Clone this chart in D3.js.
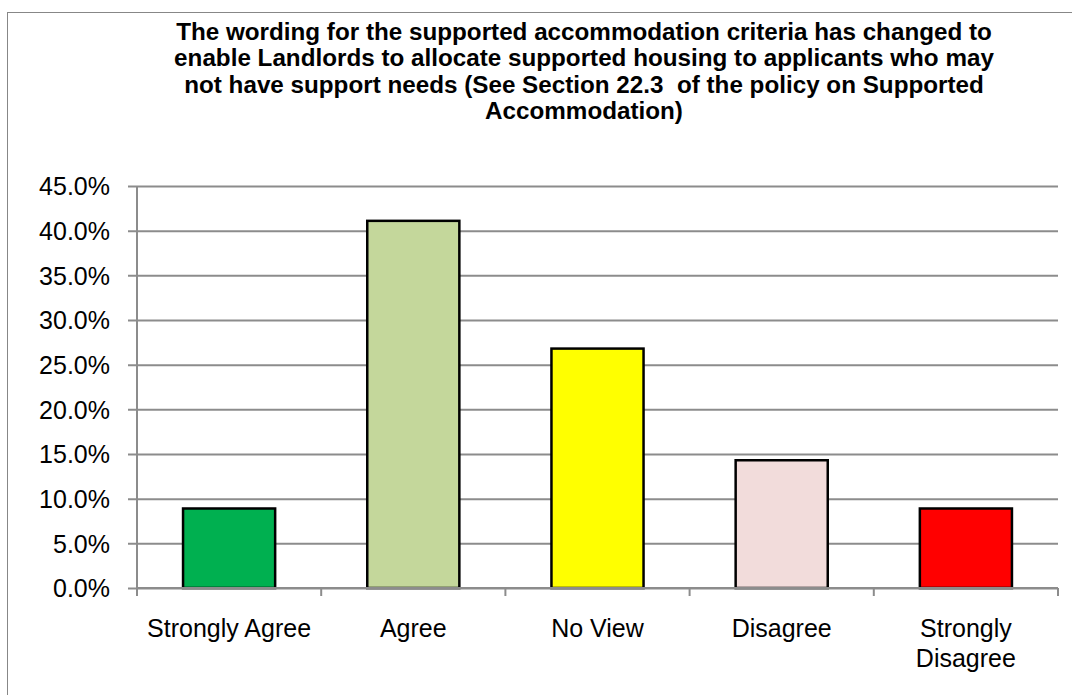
<!DOCTYPE html>
<html>
<head>
<meta charset="utf-8">
<script src="https://cdn.jsdelivr.net/npm/d3@7"></script>
<style>
	html, body { margin: 0; padding: 0; background: #fff; }
	svg { display: block; }
	.tick-label { font-family: "Liberation Sans", Arial, sans-serif; font-size: 25px; fill: #000; }
	.title { font-family: "Liberation Sans", Arial, sans-serif; font-weight: bold; font-size: 24px; fill: #000; }
</style>
</head>
<body>
<svg id="chart" width="1072" height="695"></svg>
<script>
(function(d3) {
	'use strict';

	var categories = ['Strongly Agree', 'Agree', 'No View', 'Disagree', 'Strongly Disagree'];
	var percentages = [8.9, 41.1, 26.8, 14.3, 8.9];
	var barColours = ['#00B050', '#C4D79B', '#FFFF00', '#F2DCDB', '#FF0000'];
	var yTicks = [0, 5, 10, 15, 20, 25, 30, 35, 40, 45];
	var titleLines = [
		'The wording for the supported accommodation criteria has changed to',
		'enable Landlords to allocate supported housing to applicants who may',
		'not have support needs (See Section 22.3  of the policy on Supported',
		'Accommodation)'
	];
	var categoryLines = {
		'Strongly Disagree': ['Strongly', 'Disagree']
	};

	var svg = d3.select('#chart');
	var plot = { left: 137, right: 1058, top: 186, bottom: 588 };

	// outer chart frame
	svg.append('rect').attr('x', 7.5).attr('y', 12.5).attr('width', 1080).attr('height', 700)
		.attr('fill', 'none').attr('stroke', '#878787').attr('stroke-width', 1);

	// title, squeezed to the width it has in the original
	var titleCx = 584, titleWidth = 816;
	var titleG = svg.append('g');
	titleG.selectAll('text').data(titleLines).enter().append('text')
		.attr('class', 'title')
		.attr('x', 0)
		.attr('y', function(d, i) { return 40 + i * 26.5; })
		.attr('text-anchor', 'middle')
		.style('white-space', 'pre')
		.text(function(d) { return d; });
	var firstLen = titleG.select('text').node().getComputedTextLength();
	titleG.attr('transform', 'translate(' + titleCx + ',0) scale(' + (titleWidth / firstLen) + ',1)');

	var x = d3.scaleBand().domain(categories).range([plot.left, plot.right]).paddingInner(0.5).paddingOuter(0.25);
	var xOuter = d3.scaleBand().domain(categories).range([plot.left, plot.right]);
	var y = d3.scaleLinear().domain([0, 45]).range([plot.bottom, plot.top]);

	// gridlines + y axis
	var yAxis = d3.axisLeft(y).tickValues(yTicks).tickSize(-(plot.right - plot.left))
		.tickFormat(function(d) { return d.toFixed(1) + '%'; });
	var gy = svg.append('g').attr('transform', 'translate(' + plot.left + ',0)').call(yAxis);
	gy.select('.domain').remove();
	gy.selectAll('.tick line').attr('stroke', '#8c8c8c').attr('stroke-width', 2).attr('x2', -9).attr('x1', plot.right - plot.left);
	gy.selectAll('.tick text').attr('class', 'tick-label').attr('x', -27).attr('dy', '0.35em');
	svg.append('line').attr('x1', plot.left).attr('x2', plot.left).attr('y1', plot.top).attr('y2', plot.bottom + 7)
		.attr('stroke', '#8c8c8c').attr('stroke-width', 2);

	// bars
	svg.append('g').selectAll('rect').data(percentages).enter().append('rect')
		.attr('x', function(d, i) { return x(categories[i]); })
		.attr('y', function(d) { return y(d); })
		.attr('width', x.bandwidth())
		.attr('height', function(d) { return y(0) - y(d); })
		.attr('fill', function(d, i) { return barColours[i]; })
		.attr('stroke', '#000').attr('stroke-width', 2.5);

	// x axis line and category ticks
	svg.append('line').attr('x1', plot.left).attr('x2', plot.right).attr('y1', plot.bottom).attr('y2', plot.bottom)
		.attr('stroke', '#8c8c8c').attr('stroke-width', 2);
	var tickXs = categories.map(function(c) { return xOuter(c); }).concat([plot.right]);
	svg.append('g').selectAll('line').data(tickXs).enter().append('line')
		.attr('x1', function(d) { return d; }).attr('x2', function(d) { return d; })
		.attr('y1', plot.bottom).attr('y2', plot.bottom + 8)
		.attr('stroke', '#8c8c8c').attr('stroke-width', 2);

	// category labels
	var labels = svg.append('g').selectAll('text').data(categories).enter().append('text')
		.attr('class', 'tick-label')
		.attr('text-anchor', 'middle')
		.attr('x', function(d) { return xOuter(d) + xOuter.bandwidth() / 2; })
		.attr('y', 637);
	labels.each(function(d) {
		var lines = categoryLines[d] || [d];
		var t = d3.select(this);
		lines.forEach(function(line, i) {
			t.append('tspan').attr('x', xOuter(d) + xOuter.bandwidth() / 2).attr('dy', i === 0 ? 0 : 30).text(line);
		});
	});
})(d3);
</script>
</body>
</html>
